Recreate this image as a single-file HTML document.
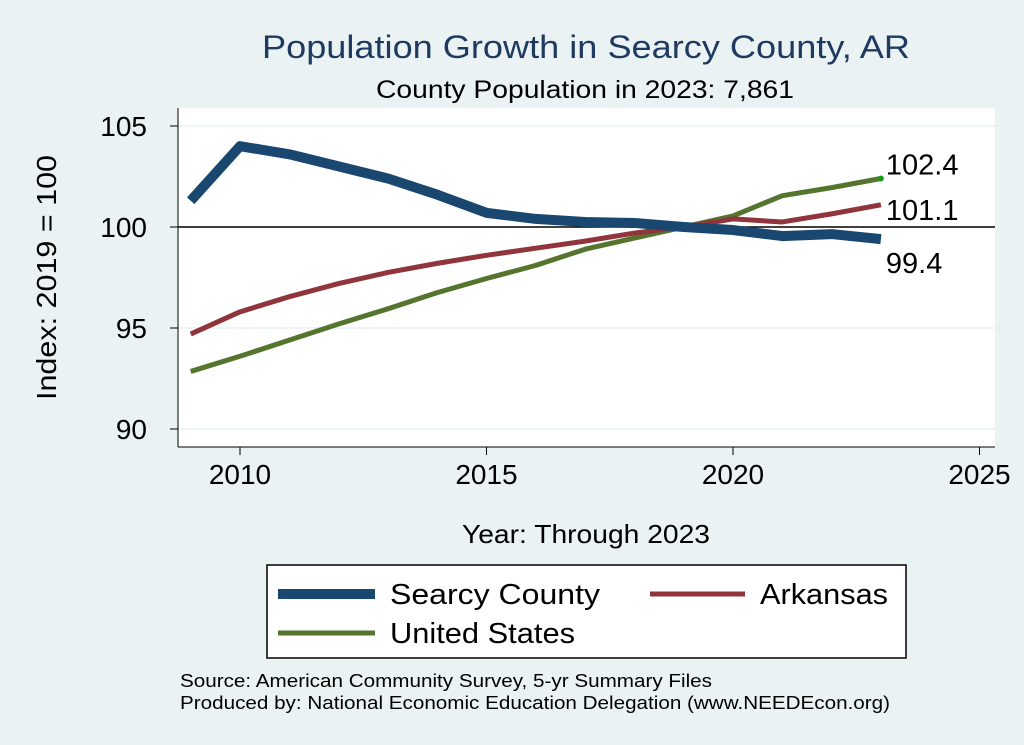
<!DOCTYPE html>
<html><head><meta charset="utf-8"><style>
body{margin:0;width:1024px;height:745px;background:#eaf2f3;font-family:"Liberation Sans",sans-serif;overflow:hidden}
svg{display:block}
</style></head><body>
<svg id="chart" width="1024" height="745">
<rect x="0" y="0" width="1024" height="745" fill="#eaf2f3"/>
<text x="262" y="58" font-size="32" textLength="648" lengthAdjust="spacingAndGlyphs" fill="#1e3a5f">Population Growth in Searcy County, AR</text>
<text x="376" y="98" font-size="25" textLength="418" lengthAdjust="spacingAndGlyphs" fill="#000">County Population in 2023: 7,861</text>
<rect x="178" y="108" width="817" height="339" fill="#fff"/>
<g id="grid"></g>
<g id="axes"></g>
<g id="series"></g>
<text x="56" y="400" font-size="28" textLength="245" lengthAdjust="spacingAndGlyphs" transform="rotate(-90 56 400)">Index: 2019 = 100</text>
<text x="462" y="543" font-size="26" textLength="248" lengthAdjust="spacingAndGlyphs">Year: Through 2023</text>
<g>
<rect x="267" y="565" width="639" height="93" fill="#fff" stroke="#000" stroke-width="1.5"/>
<line x1="278" y1="594" x2="375" y2="594" stroke="#1a476f" stroke-width="10"/>
<text x="390" y="604" font-size="29" textLength="210" lengthAdjust="spacingAndGlyphs">Searcy  County</text>
<line x1="650" y1="594" x2="745" y2="594" stroke="#90353b" stroke-width="5"/>
<text x="760" y="604" font-size="29" textLength="128" lengthAdjust="spacingAndGlyphs">Arkansas</text>
<line x1="278" y1="633" x2="375" y2="633" stroke="#55752f" stroke-width="5"/>
<text x="390" y="643" font-size="29" textLength="185" lengthAdjust="spacingAndGlyphs">United States</text>
</g>
<text x="180" y="687" font-size="18" textLength="532" lengthAdjust="spacingAndGlyphs">Source: American Community Survey, 5-yr Summary Files</text>
<text x="180" y="709" font-size="18" textLength="710" lengthAdjust="spacingAndGlyphs">Produced by: National Economic Education Delegation (www.NEEDEcon.org)</text>
</svg>
<script>
const years=[2009,2010,2011,2012,2013,2014,2015,2016,2017,2018,2019,2020,2021,2022,2023];
const searcy=[101.3,104.0,103.6,103.0,102.4,101.6,100.7,100.4,100.25,100.2,100.0,99.85,99.55,99.65,99.4];
const arkansas=[94.7,95.8,96.55,97.2,97.75,98.2,98.6,98.95,99.3,99.7,100.0,100.4,100.25,100.65,101.1];
const unitedStates=[92.85,93.6,94.4,95.2,95.95,96.75,97.45,98.1,98.9,99.45,100.0,100.55,101.55,101.95,102.4];
const yTicks=[90,95,100,105];
const xTicks=[2010,2015,2020,2025];
const NS="http://www.w3.org/2000/svg";
const xs=y=>240+(y-2010)*49.3;
const ys=v=>227-(v-100)*20.2;
function mk(t,a,parent){const e=document.createElementNS(NS,t);for(const k in a)e.setAttribute(k,a[k]);document.getElementById(parent).appendChild(e);return e;}
yTicks.forEach(v=>{
  const l=mk('line',{x1:178,x2:995,y1:ys(v),y2:ys(v),stroke:v===100?'#000':'#eaf2f3','stroke-width':1.5},'grid');
  
  
  const t=mk('line',{x1:170,x2:178,y1:ys(v),y2:ys(v),stroke:'#000'},'axes');
  
  
  const tx=mk('text',{x:147,y:ys(v)+10,'text-anchor':'end','font-size':28},'axes');tx.textContent=v;
  
  
});
xTicks.forEach(y=>{
  const t=mk('line',{x1:xs(y),x2:xs(y),y1:447,y2:455,stroke:'#000'},'axes');
  
  
  const tx=mk('text',{x:xs(y),y:484,'text-anchor':'middle','font-size':28},'axes');tx.textContent=y;
  
  
});
let ax=mk('line',{x1:178,x2:178,y1:108,y2:447,stroke:'#000'},'axes');


ax=mk('line',{x1:178,x2:995,y1:447,y2:447,stroke:'#000'},'axes');


function line(vals,color,w,name){
  const p=mk('polyline',{points:vals.map((v,i)=>xs(years[i])+','+ys(v)).join(' '),fill:'none',stroke:color,'stroke-width':w,'stroke-linejoin':'round'},'series');
  
  
}
line(unitedStates,'#55752f',5,'line-united-states');
line(arkansas,'#90353b',5,'line-arkansas');
line(searcy,'#1a476f',10,'line-searcy-county');
const last=years.length-1;
const dot=mk('circle',{cx:xs(years[last]),cy:ys(unitedStates[last]),r:3,fill:'#1a9a1a'},'series');


[[unitedStates,-4,'label-us-end'],[arkansas,15,'label-arkansas-end'],[searcy,34,'label-searcy-end']].forEach(([s,dy,n])=>{
  const t=mk('text',{x:xs(years[last])+5,y:ys(s[last])+dy,'font-size':29},'series');
  t.textContent=s[last].toFixed(1);
  
  
});
</script>
</body></html>
